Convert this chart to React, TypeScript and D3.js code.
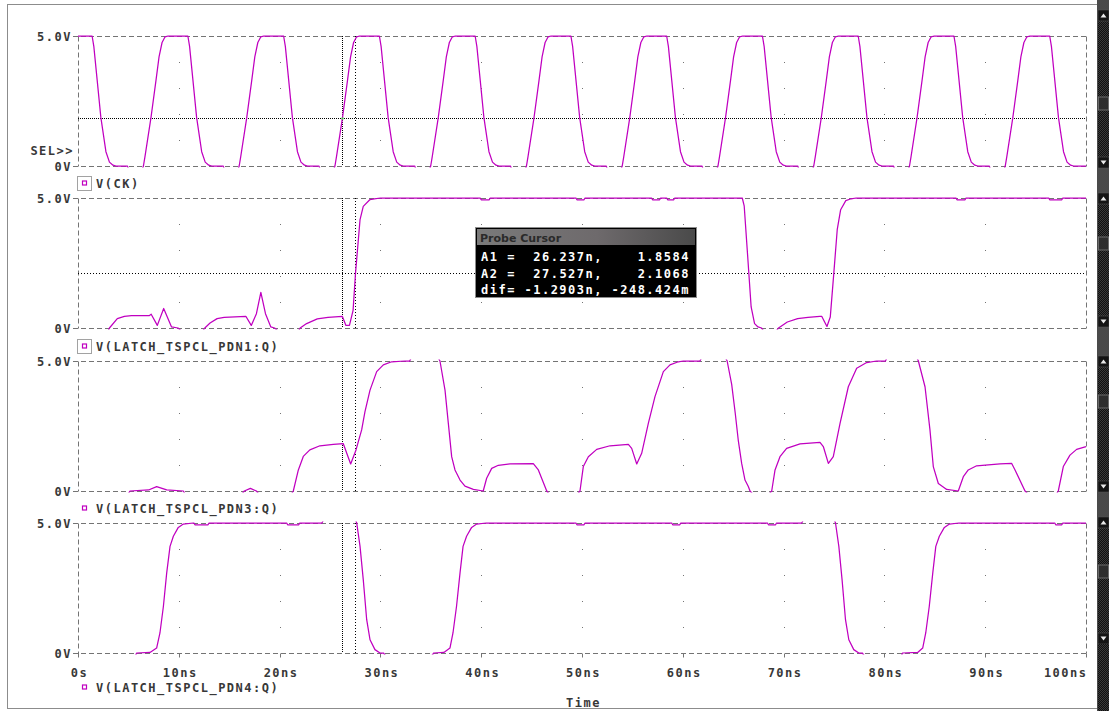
import React from 'react';
import * as d3 from 'd3';

// ---------- data ----------
const TIME_TICKS = [0, 10, 20, 30, 40, 50, 60, 70, 80, 90, 100];
const TIME_LABELS = ['0s', '10ns', '20ns', '30ns', '40ns', '50ns', '60ns', '70ns', '80ns', '90ns', '100ns'];
const VOLT_GRID = [1, 2, 3, 4];
const Y_TOP_LABEL = '5.0V';
const Y_BOTTOM_LABEL = '0V';
const SERIES_NAMES = ['V(CK)', 'V(LATCH_TSPCL_PDN1:Q)', 'V(LATCH_TSPCL_PDN3:Q)', 'V(LATCH_TSPCL_PDN4:Q)'];
const CURSOR_A1 = { t: 26.237, v: 1.8584 };
const CURSOR_A2 = { t: 27.527, v: 2.1068 };
const CURSOR_ROWS = [
  ['A1 =', '26.237n,', '1.8584'],
  ['A2 =', '27.527n,', '2.1068'],
  ['dif=', '-1.2903n,', '-248.424m'],
];

// [time ns, volts]
const ckData: [number, number][] = [
  [0, 5], [1.4, 5], [1.57, 4.6], [2.27, 1.86], [2.77, 0.55], [3.12, 0.15], [3.47, 0.03], [3.77, 0], [4.9, 0], [5.0, -0.1], [6.4, -0.1],
  [6.49, 0], [6.64, 0.35], [7.24, 1.86], [7.74, 3.3], [8.04, 4.2], [8.34, 4.75], [8.64, 4.97], [8.94, 5],
  [10.9, 5], [11.07, 4.6], [11.77, 1.86], [12.27, 0.55], [12.62, 0.15], [12.97, 0.03], [13.27, 0], [14.4, 0], [14.5, -0.1], [15.9, -0.1],
  [15.99, 0], [16.14, 0.35], [16.74, 1.86], [17.24, 3.3], [17.54, 4.2], [17.84, 4.75], [18.14, 4.97], [18.44, 5],
  [20.4, 5], [20.57, 4.6], [21.27, 1.86], [21.77, 0.55], [22.12, 0.15], [22.47, 0.03], [22.77, 0], [23.9, 0], [24.0, -0.1], [25.4, -0.1],
  [25.49, 0], [25.64, 0.35], [26.24, 1.86], [26.74, 3.3], [27.04, 4.2], [27.34, 4.75], [27.64, 4.97], [27.94, 5],
  [29.9, 5], [30.07, 4.6], [30.77, 1.86], [31.27, 0.55], [31.62, 0.15], [31.97, 0.03], [32.27, 0], [33.4, 0], [33.5, -0.1], [34.9, -0.1],
  [34.99, 0], [35.14, 0.35], [35.74, 1.86], [36.24, 3.3], [36.54, 4.2], [36.84, 4.75], [37.14, 4.97], [37.44, 5],
  [39.4, 5], [39.57, 4.6], [40.27, 1.86], [40.77, 0.55], [41.12, 0.15], [41.47, 0.03], [41.77, 0], [42.9, 0], [43.0, -0.1], [44.4, -0.1],
  [44.49, 0], [44.64, 0.35], [45.24, 1.86], [45.74, 3.3], [46.04, 4.2], [46.34, 4.75], [46.64, 4.97], [46.94, 5],
  [48.9, 5], [49.07, 4.6], [49.77, 1.86], [50.27, 0.55], [50.62, 0.15], [50.97, 0.03], [51.27, 0], [52.4, 0], [52.5, -0.1], [53.9, -0.1],
  [53.99, 0], [54.14, 0.35], [54.74, 1.86], [55.24, 3.3], [55.54, 4.2], [55.84, 4.75], [56.14, 4.97], [56.44, 5],
  [58.4, 5], [58.57, 4.6], [59.27, 1.86], [59.77, 0.55], [60.12, 0.15], [60.47, 0.03], [60.77, 0], [61.9, 0], [62.0, -0.1], [63.4, -0.1],
  [63.49, 0], [63.64, 0.35], [64.24, 1.86], [64.74, 3.3], [65.04, 4.2], [65.34, 4.75], [65.64, 4.97], [65.94, 5],
  [67.9, 5], [68.07, 4.6], [68.77, 1.86], [69.27, 0.55], [69.62, 0.15], [69.97, 0.03], [70.27, 0], [71.4, 0], [71.5, -0.1], [72.9, -0.1],
  [72.99, 0], [73.14, 0.35], [73.74, 1.86], [74.24, 3.3], [74.54, 4.2], [74.84, 4.75], [75.14, 4.97], [75.44, 5],
  [77.4, 5], [77.57, 4.6], [78.27, 1.86], [78.77, 0.55], [79.12, 0.15], [79.47, 0.03], [79.77, 0], [80.9, 0], [81.0, -0.1], [82.4, -0.1],
  [82.49, 0], [82.64, 0.35], [83.24, 1.86], [83.74, 3.3], [84.04, 4.2], [84.34, 4.75], [84.64, 4.97], [84.94, 5],
  [86.9, 5], [87.07, 4.6], [87.77, 1.86], [88.27, 0.55], [88.62, 0.15], [88.97, 0.03], [89.27, 0], [90.4, 0], [90.5, -0.1], [91.9, -0.1],
  [91.99, 0], [92.14, 0.35], [92.74, 1.86], [93.24, 3.3], [93.54, 4.2], [93.84, 4.75], [94.14, 4.97], [94.44, 5],
  [96.4, 5], [96.57, 4.6], [97.27, 1.86], [97.77, 0.55], [98.12, 0.15], [98.47, 0.03], [98.77, 0], [100, 0],
];

const pdn1Data: [number, number][] = [
  [0, -0.1], [3.0, -0.1], [3.12, 0], [3.9, 0.36], [4.6, 0.45], [5.3, 0.48], [7.09, 0.48], [7.26, 0.53], [7.87, 0.1], [8.5, 0.75], [9.28, 0.04], [9.92, 0], [10.2, -0.1],
  [12.4, -0.1], [12.58, 0], [13.1, 0.19], [13.8, 0.36], [14.5, 0.41], [16.65, 0.45], [17.19, 0.1], [17.7, 0.55], [18.14, 1.37], [18.6, 0.55], [19.13, 0.04], [19.5, 0], [19.8, -0.1],
  [21.9, -0.1], [22.04, 0], [22.68, 0.17], [23.74, 0.35], [24.8, 0.41], [26.22, 0.45], [26.58, 0.1], [26.93, 0.1], [27.29, 0.68], [27.53, 2.1], [27.98, 4.17], [28.3, 4.68], [28.97, 4.94], [29.4, 4.97], [30.0, 5],
  [39.9, 5], [40.0, 4.93], [40.8, 4.93], [40.9, 5],
  [49.4, 5], [49.5, 4.93], [50.2, 4.93], [50.3, 5],
  [56.9, 5], [57.0, 4.93], [57.7, 4.93], [57.8, 5], [58.4, 5], [58.5, 4.93], [59.1, 4.93], [59.2, 5],
  [65.9, 5], [66.09, 4.7], [66.44, 2.74], [66.78, 0.81], [67.12, 0.17], [67.46, 0.04], [67.8, 0], [68.0, -0.1],
  [69.3, -0.1], [69.5, 0], [70.37, 0.23], [71.39, 0.36], [72.42, 0.41], [73.6, 0.45], [73.78, 0.45], [74.3, 0.06], [74.63, 0.42], [74.98, 2.1], [75.32, 3.78], [75.66, 4.55], [76.17, 4.9], [76.7, 4.97], [77.2, 5],
  [87.1, 5], [87.2, 4.93], [88.0, 4.93], [88.1, 5],
  [96.3, 5], [96.4, 4.93], [97.6, 4.93], [97.7, 5], [100, 5],
];

const pdn3Data: [number, number][] = [
  [0, -0.1], [5.0, -0.1], [5.16, 0], [7.0, 0.04], [7.8, 0.17], [8.8, 0.04], [10.45, 0], [10.6, -0.1],
  [16.3, -0.1], [16.5, 0], [17.1, 0.1], [17.7, 0], [17.9, -0.1],
  [21.2, -0.1], [21.36, 0], [21.86, 0.81], [22.35, 1.33], [23.0, 1.58], [24.0, 1.74], [25.33, 1.79], [26.32, 1.82], [27.05, 1.04], [27.58, 1.58], [28.14, 2.35], [28.47, 3.05], [28.97, 3.88], [29.63, 4.59], [30.29, 4.85], [31.12, 4.97], [32.44, 5],
  [32.9, 5], [33.1, 5.15], [35.7, 5.15], [35.91, 5], [36.41, 3.88], [36.74, 2.6], [37.07, 1.32], [37.4, 0.81], [37.9, 0.42], [38.39, 0.19], [39.22, 0.06], [40.2, 0],
  [40.54, 0.49], [41.04, 0.87], [41.7, 0.99], [42.86, 1.04], [45.17, 1.05], [45.67, 0.81], [46.5, 0], [46.7, -0.1],
  [49.6, -0.1], [49.8, 0], [50.13, 0.94], [50.63, 1.32], [51.46, 1.6], [52.78, 1.74], [54.6, 1.79], [54.93, 1.64], [55.43, 1.04], [55.92, 1.45], [56.58, 2.6], [57.24, 3.63], [58.07, 4.59], [58.73, 4.85], [59.56, 4.97], [60.05, 5],
  [61.7, 5], [61.9, 5.15], [64.2, 5.15], [64.4, 5], [64.85, 4.1], [65.2, 3.0], [65.5, 1.96], [65.84, 1.06], [66.17, 0.42], [66.5, 0.17], [66.67, 0], [66.9, -0.1],
  [68.6, -0.1], [68.82, 0], [69.15, 0.81], [69.64, 1.32], [70.3, 1.64], [71.63, 1.81], [73.61, 1.87], [73.94, 1.71], [74.44, 1.06], [74.93, 1.32], [75.6, 2.6], [76.42, 4.01], [77.25, 4.72], [78.24, 4.94], [79.23, 5],
  [80.1, 5], [80.3, 5.15], [83.2, 5.15], [83.37, 5], [84.03, 4.01], [84.52, 2.35], [84.85, 0.94], [85.35, 0.29], [86.18, 0.06], [87.33, 0],
  [87.83, 0.55], [88.32, 0.81], [89.15, 0.97], [91.47, 1.04], [92.63, 1.06], [92.96, 0.81], [93.95, 0], [94.2, -0.1],
  [97.1, -0.1], [97.25, 0], [97.75, 0.94], [98.41, 1.38], [99.07, 1.6], [100, 1.71],
];

const pdn4Data: [number, number][] = [
  [0, -0.1], [5.7, -0.1], [5.82, 0], [7.14, 0.02], [7.8, 0.19], [8.13, 0.77], [8.47, 1.79], [8.8, 3.08], [9.13, 4.1], [9.46, 4.49], [9.95, 4.83], [10.45, 4.96], [11.44, 5],
  [11.5, 5], [11.6, 4.93], [12.9, 4.93], [13.0, 5],
  [20.7, 5], [20.8, 4.93], [21.9, 4.93], [22.0, 5],
  [24.2, 5], [24.4, 5.15], [27.5, 5.15], [27.65, 5], [27.98, 4.1], [28.3, 2.82], [28.64, 1.28], [28.97, 0.51], [29.46, 0.13], [29.96, 0], [30.3, 0], [30.5, -0.1],
  [35.1, -0.1], [35.3, 0], [36.3, 0.02], [36.9, 0.19], [37.2, 0.77], [37.55, 1.79], [37.9, 3.08], [38.2, 4.1], [38.55, 4.49], [39.05, 4.83], [39.55, 4.96], [40.5, 5],
  [49.4, 5], [49.5, 4.93], [50.2, 4.93], [50.3, 5],
  [58.9, 5], [59.0, 4.93], [59.7, 4.93], [59.8, 5],
  [68.4, 5], [68.5, 4.93], [69.2, 4.93], [69.3, 5],
  [71.8, 5], [72.0, 5.15], [75.0, 5.15], [75.15, 5], [75.48, 4.1], [75.8, 2.82], [76.14, 1.28], [76.47, 0.51], [76.96, 0.13], [77.46, 0], [77.8, 0], [78.0, -0.1],
  [81.7, -0.1], [81.8, 0], [83.3, 0.02], [83.8, 0.19], [84.1, 0.77], [84.45, 1.79], [84.8, 3.08], [85.1, 4.1], [85.45, 4.49], [85.95, 4.83], [86.45, 4.96], [87.4, 5],
  [96.9, 5], [97.0, 4.93], [97.6, 4.93], [97.7, 5], [100, 5],
];

// ---------- layout ----------
const W = 1109;
const H = 711;
const PLOT_LEFT = 78;
const PLOT_RIGHT = 1086;
const PANEL_TOPS = [36, 198, 361, 523];
const PANEL_H = 130;
const LEGEND_Y = [183, 346, 508, 687];
const LEGEND_SELECTED = [true, true, false, false];
const SCROLLBARS = [
  [10, 168, 97],
  [193, 327, 237],
  [356, 492, 395],
  [517, 644, 565],
];
const WAVE = '#c000c0';
const TEXT = '#383838';
const GRID = '#747474';
const DASH = '5,3';
const MONO = "'DejaVu Sans Mono', 'Liberation Mono', monospace";

const monoStyle: React.CSSProperties = {
  fontFamily: MONO,
  fontWeight: 'bold',
  fontSize: 12,
  letterSpacing: 1.5,
};

export default function App() {
  const x = d3.scaleLinear().domain([0, 100]).range([PLOT_LEFT, PLOT_RIGHT]);
  const series = [ckData, pdn1Data, pdn3Data, pdn4Data];
  const xA1 = Math.round(x(CURSOR_A1.t)) + 0.5;
  const xA2 = Math.round(x(CURSOR_A2.t)) + 0.5;

  const panels = PANEL_TOPS.map((top, i) => {
    const y = d3.scaleLinear().domain([0, 5]).range([top + PANEL_H, top]);
    const line = d3
      .line<[number, number]>()
      .x((d) => x(d[0]))
      .y((d) => y(d[1]))
      .curve(d3.curveLinear);
    const yTop = top + 0.5;
    const yBot = top + PANEL_H + 0.5;
    const isLast = i === PANEL_TOPS.length - 1;
    return (
      <g key={i}>
        <defs>
          <clipPath id={`clip${i}`}>
            <rect x={PLOT_LEFT} y={top - 1.5} width={PLOT_RIGHT - PLOT_LEFT + 1} height={PANEL_H + 3} />
          </clipPath>
        </defs>
        {/* borders */}
        <line x1={73} x2={PLOT_RIGHT + 0.5} y1={yTop} y2={yTop} stroke={GRID} strokeDasharray={DASH} />
        <line x1={73} x2={PLOT_RIGHT + 0.5} y1={yBot} y2={yBot} stroke={GRID} strokeDasharray={DASH} />
        <line x1={PLOT_LEFT + 0.5} x2={PLOT_LEFT + 0.5} y1={yTop} y2={isLast ? yBot + 4 : yBot} stroke={GRID} strokeDasharray={DASH} />
        <line x1={PLOT_RIGHT + 0.5} x2={PLOT_RIGHT + 0.5} y1={yTop} y2={yBot} stroke={GRID} strokeDasharray={DASH} />
        {/* grid dots */}
        {TIME_TICKS.slice(1, -1).map((t) =>
          VOLT_GRID.map((v) => (
            <rect key={`${t}-${v}`} x={Math.round(x(t))} y={Math.round(y(v))} width={1} height={1} fill={GRID} />
          ))
        )}
        {/* x ticks on last panel */}
        {isLast &&
          TIME_TICKS.map((t) => (
            <line key={t} x1={Math.round(x(t)) + 0.5} x2={Math.round(x(t)) + 0.5} y1={yBot} y2={yBot + 4} stroke={GRID} />
          ))}
        {/* cursor verticals */}
        <line x1={xA1} x2={xA1} y1={top} y2={top + PANEL_H} stroke="#000" strokeDasharray="1,1" />
        <line x1={xA2} x2={xA2} y1={top} y2={top + PANEL_H} stroke="#000" strokeDasharray="1,2" />
        {i === 0 && (
          <line x1={PLOT_LEFT} x2={PLOT_RIGHT} y1={Math.round(y(CURSOR_A1.v)) + 0.5} y2={Math.round(y(CURSOR_A1.v)) + 0.5} stroke="#000" strokeDasharray="1,1" />
        )}
        {i === 1 && (
          <line x1={PLOT_LEFT} x2={PLOT_RIGHT} y1={Math.round(y(CURSOR_A2.v)) + 0.5} y2={Math.round(y(CURSOR_A2.v)) + 0.5} stroke="#000" strokeDasharray="1,2" />
        )}
        {/* waveform */}
        <path d={line(series[i]) || ''} fill="none" stroke={WAVE} strokeWidth={1.25} strokeLinejoin="round" clipPath={`url(#clip${i})`} />
        {i === 0 && <rect x={xA1 - 1} y={Math.round(y(CURSOR_A1.v)) - 0.5} width={2} height={2} fill="#40d040" />}
        {/* y labels */}
        <text x={72} y={top + 4.5} textAnchor="end" fill={TEXT} style={monoStyle}>
          {Y_TOP_LABEL}
        </text>
        <text x={72} y={top + PANEL_H + 4.5} textAnchor="end" fill={TEXT} style={monoStyle}>
          {Y_BOTTOM_LABEL}
        </text>
        {i === 0 && (
          <text x={74} y={155} textAnchor="end" fill={TEXT} style={monoStyle}>
            SEL&gt;&gt;
          </text>
        )}
        {/* legend */}
        {LEGEND_SELECTED[i] && (
          <rect x={77.5} y={LEGEND_Y[i] - 6.5} width={14} height={14} fill="none" stroke="#444" strokeDasharray="1,1" />
        )}
        <rect x={82.5} y={LEGEND_Y[i] - 2} width={4} height={4} fill="#fff" stroke={WAVE} strokeWidth={1.2} />
        <text x={96} y={LEGEND_Y[i] + 5} fill={TEXT} style={monoStyle}>
          {SERIES_NAMES[i]}
        </text>
      </g>
    );
  });

  const lastBottom = PANEL_TOPS[3] + PANEL_H;

  return (
    <svg width={W} height={H} style={{ position: 'absolute', left: 0, top: 0, background: '#fff' }}>
      <defs>
        <pattern id="dither" width={2} height={2} patternUnits="userSpaceOnUse">
          <rect width={2} height={2} fill="#101010" />
          <rect x={0} y={0} width={1} height={1} fill="#3a3a3a" />
          <rect x={1} y={1} width={1} height={1} fill="#3a3a3a" />
        </pattern>
        <linearGradient id="titleGrad" x1="0" x2="1" y1="0" y2="0">
          <stop offset="0" stopColor="#7a7a7a" />
          <stop offset="0.55" stopColor="#6e6a6c" />
          <stop offset="1" stopColor="#4a4a4a" />
        </linearGradient>
      </defs>
      <rect x={0} y={0} width={W} height={H} fill="#fff" />
      {/* outer frame */}
      <rect x={7.5} y={4.5} width={1090} height={704} fill="none" stroke="#8c8c8c" />

      {panels}

      {/* x tick labels */}
      {TIME_TICKS.map((t, i) => (
        <text
          key={t}
          x={i === TIME_TICKS.length - 1 ? PLOT_RIGHT + 1.5 : x(t) + 1.5}
          y={lastBottom + 23.5}
          textAnchor={i === TIME_TICKS.length - 1 ? 'end' : 'middle'}
          fill={TEXT}
          style={monoStyle}
        >
          {TIME_LABELS[i]}
        </text>
      ))}
      <text x={x(50) + 1.5} y={707} textAnchor="middle" fill={TEXT} style={monoStyle}>
        Time
      </text>

      {/* probe cursor box */}
      <g>
        <rect x={475.5} y={227.5} width={221} height={70} fill="#000" stroke="#8c8c8c" />
        <rect x={477} y={229} width={218} height={16} fill="url(#titleGrad)" />
        <text x={480} y={242} fill="#2a2a2a" style={{ fontFamily: "'DejaVu Sans', sans-serif", fontSize: 11, fontWeight: 'bold' }}>
          Probe Cursor
        </text>
        {CURSOR_ROWS.map((row, r) => (
          <g key={r} fill="#fff" style={monoStyle}>
            <text x={481} y={261 + r * 16.5}>
              {row[0]}
            </text>
            <text x={603} y={261 + r * 16.5} textAnchor="end">
              {row[1]}
            </text>
            <text x={690} y={261 + r * 16.5} textAnchor="end">
              {row[2]}
            </text>
          </g>
        ))}
      </g>

      {/* right scrollbars strip */}
      <rect x={1097} y={0} width={12} height={H} fill="#4a4a4a" />
      {SCROLLBARS.map(([a, b, th], i) => (
        <g key={i}>
          <rect x={1098} y={a + 11} width={11} height={b - a - 22} fill="url(#dither)" />
          <rect x={1098} y={a} width={11} height={11} fill="#141414" stroke="#5a5a5a" strokeWidth={0.5} />
          <path d={`M${1100.5},${a + 7.5} L${1106.5},${a + 7.5} L${1103.5},${a + 3.5} Z`} fill="#e8e8e8" />
          <rect x={1098} y={b - 11} width={11} height={11} fill="#141414" stroke="#5a5a5a" strokeWidth={0.5} />
          <path d={`M${1100.5},${b - 7.5} L${1106.5},${b - 7.5} L${1103.5},${b - 3.5} Z`} fill="#e8e8e8" />
          <rect x={1098.5} y={th} width={10} height={13} fill="#2e2e2e" stroke="#6a6a6a" />
        </g>
      ))}
      <rect x={1098} y={644} width={11} height={H - 644} fill="url(#dither)" />
    </svg>
  );
}
